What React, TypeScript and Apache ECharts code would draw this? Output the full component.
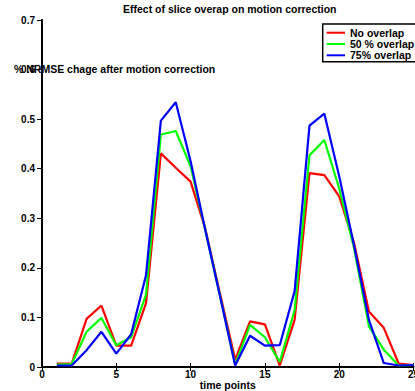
import React, { useEffect, useRef } from "react";
import * as echarts from "echarts";

const timePoints = [1, 2, 3, 4, 5, 6, 7, 8, 9, 10, 11, 12, 13, 14, 15, 16, 17, 18, 19, 20, 21, 22, 23, 24, 25];
const noOverlap = [0.007, 0.007, 0.097, 0.124, 0.043, 0.043, 0.129, 0.431, 0.402, 0.374, 0.278, 0.145, 0.015, 0.092, 0.086, 0.003, 0.095, 0.391, 0.387, 0.344, 0.25, 0.112, 0.079, 0.007, 0.004];
const overlap50 = [0.005, 0.006, 0.071, 0.099, 0.044, 0.06, 0.146, 0.469, 0.476, 0.405, 0.275, 0.14, 0.005, 0.085, 0.06, 0.01, 0.115, 0.427, 0.458, 0.36, 0.24, 0.082, 0.035, 0.003, 0.004];
const overlap75 = [0.003, 0.003, 0.034, 0.071, 0.027, 0.066, 0.185, 0.497, 0.534, 0.415, 0.275, 0.14, 0.003, 0.063, 0.043, 0.044, 0.153, 0.487, 0.511, 0.385, 0.245, 0.095, 0.008, 0.003, 0.004];
const seriesNames = ["No overlap", "50 % overlap", "75% overlap"];
const seriesColors = ["#ff0000", "#00ff00", "#0000ff"];
const titleText = "Effect of slice overap on motion correction";
const yAxisTitle = "% NRMSE chage after motion correction";
const xAxisTitle = "time points";

const FONT = "'Liberation Sans', Arial, Helvetica, sans-serif";

export default function App() {
  const ref = useRef<HTMLDivElement>(null);
  useEffect(() => {
    if (!ref.current) return;
    const chart = echarts.init(ref.current, null, { renderer: "svg" });
    const allData = [noOverlap, overlap50, overlap75];
    const textBase = { fontFamily: FONT, fontWeight: "bold" as const, color: "#000" };

    const legendX = 322.7;
    const legendY = 24;
    const rowH = 11.3;
    const legendChildren: any[] = [
      {
        type: "rect",
        shape: { x: legendX, y: legendY, width: 110, height: 37.7 },
        style: { fill: "#fff", stroke: "#000", lineWidth: 1.5 },
      },
    ];
    seriesNames.forEach((name, i) => {
      const cy = legendY + 8.7 + i * rowH;
      legendChildren.push({
        type: "line",
        shape: { x1: legendX + 4, y1: cy, x2: legendX + 22.3, y2: cy },
        style: { stroke: seriesColors[i], lineWidth: 2 },
      });
      legendChildren.push({
        type: "text",
        x: legendX + 27.3,
        y: cy,
        style: {
          text: name,
          fill: "#000",
          font: `bold 10.5px ${FONT}`,
          verticalAlign: "middle",
          align: "left",
        },
      });
    });

    chart.setOption({
      animation: false,
      backgroundColor: "#fff",
      title: [
        {
          text: titleText,
          left: 123,
          top: 3,
          padding: 0,
          textStyle: { ...textBase, fontSize: 10.5 },
        },
        {
          text: yAxisTitle,
          left: 14,
          top: 63,
          padding: 0,
          textStyle: { ...textBase, fontSize: 10.5 },
        },
      ],
      graphic: [{ type: "group", z: 100, children: legendChildren }],
      grid: { left: 42, right: 1.5, top: 20, bottom: 24, outerBoundsMode: "none", containLabel: false },
      xAxis: [
        {
          type: "value",
          min: 0,
          max: 25,
          interval: 5,
          name: xAxisTitle,
          nameLocation: "middle",
          nameGap: 17.5,
          nameMoveOverlap: false,
          nameTextStyle: { ...textBase, fontSize: 10.5, verticalAlign: "middle" },
          axisLine: { show: true, lineStyle: { color: "#000", width: 2 } },
          axisTick: { show: true, inside: true, length: 4, lineStyle: { color: "#000" } },
          axisLabel: { ...textBase, fontSize: 10, margin: 2, showMaxLabel: true, showMinLabel: true, hideOverlap: false },
          splitLine: { show: false },
        },
        {
          type: "value",
          position: "top",
          min: 0,
          max: 25,
          interval: 5,
          axisLine: { show: true, lineStyle: { color: "#000", width: 1.5 } },
          axisTick: { show: true, inside: true, length: 4, lineStyle: { color: "#000" } },
          axisLabel: { show: false },
          splitLine: { show: false },
        },
      ],
      yAxis: [
        {
          type: "value",
          min: 0,
          max: 0.7,
          interval: 0.1,
          axisLine: { show: true, lineStyle: { color: "#000", width: 2 } },
          axisTick: { show: true, inside: false, length: 5, lineStyle: { color: "#000" } },
          axisLabel: {
            ...textBase,
            fontSize: 10,
            margin: 7,
            formatter: (v: number) => (v === 0 ? "0" : v.toFixed(1)),
          },
          splitLine: { show: false },
        },
        {
          type: "value",
          position: "right",
          min: 0,
          max: 0.7,
          interval: 0.1,
          axisLine: { show: true, lineStyle: { color: "#000", width: 1.5 } },
          axisTick: { show: true, inside: true, length: 4, lineStyle: { color: "#000" } },
          axisLabel: { show: false },
          splitLine: { show: false },
        },
      ],
      series: seriesNames.map((name, i) => ({
        name,
        type: "line",
        xAxisIndex: 0,
        yAxisIndex: 0,
        symbol: "none",
        color: seriesColors[i],
        lineStyle: { color: seriesColors[i], width: 2.2 },
        data: timePoints.map((t, j) => [t, allData[i][j]]),
      })),
    });
    return () => chart.dispose();
  }, []);
  return (
    <div
      ref={ref}
      style={{ position: "fixed", left: 0, top: 0, width: 415, height: 391 }}
    />
  );
}
